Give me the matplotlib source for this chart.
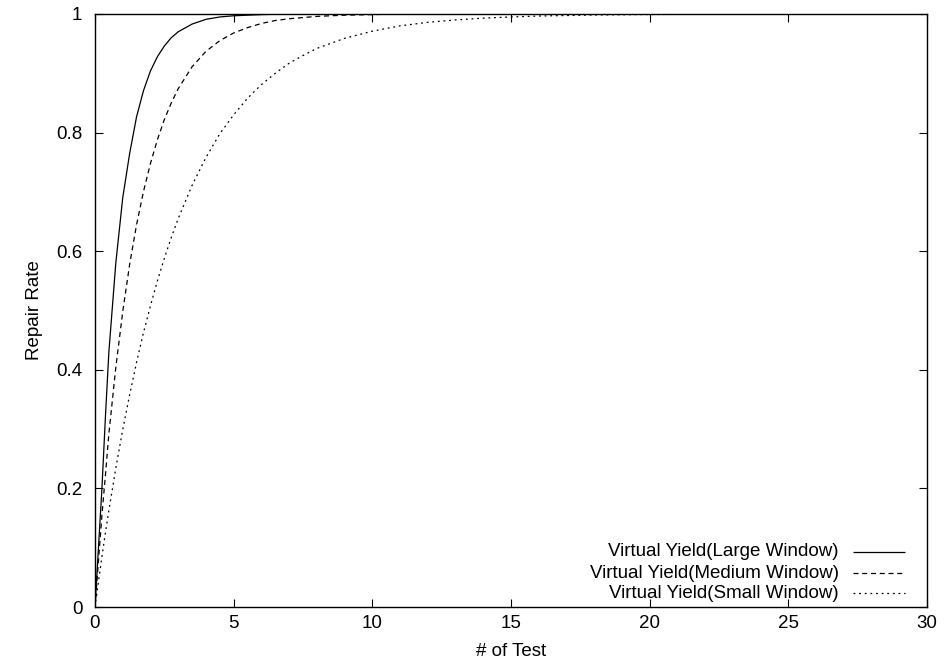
import matplotlib
matplotlib.use("Agg")
import matplotlib.pyplot as plt

plt.rcParams['font.family'] = ['Liberation Sans', 'DejaVu Sans']

# Data
tests = [0, 0.125, 0.25, 0.375, 0.5, 0.75, 1, 1.25, 1.5, 1.75, 2, 2.25, 2.5, 2.75,
         3, 3.5, 4, 4.5, 5, 5.5, 6, 6.5, 7, 7.5, 8, 9, 10, 11, 12, 13, 14, 15, 16,
         18, 20, 25, 30]
large_window = [0, 0.10, 0.20, 0.32, 0.43, 0.58, 0.69, 0.765, 0.827, 0.871, 0.904,
                0.928, 0.946, 0.960, 0.970, 0.983, 0.991, 0.995, 0.997, 0.998,
                0.999, 0.9995, 1.0, 1.0, 1.0, 1.0, 1.0, 1.0, 1.0, 1.0, 1.0, 1.0,
                1.0, 1.0, 1.0, 1.0, 1.0]
medium_window = [0, 0.078, 0.155, 0.222, 0.292, 0.404, 0.498, 0.578, 0.645, 0.701,
                 0.748, 0.788, 0.822, 0.850, 0.874, 0.911, 0.937, 0.955, 0.968,
                 0.977, 0.984, 0.989, 0.992, 0.994, 0.996, 0.998, 0.999, 1.0, 1.0,
                 1.0, 1.0, 1.0, 1.0, 1.0, 1.0, 1.0, 1.0]
small_window = [0, 0.043, 0.085, 0.125, 0.163, 0.234, 0.299, 0.358, 0.413, 0.463,
                0.508, 0.550, 0.588, 0.623, 0.655, 0.711, 0.758, 0.798, 0.830,
                0.858, 0.881, 0.900, 0.917, 0.930, 0.942, 0.959, 0.971, 0.980,
                0.986, 0.990, 0.993, 0.995, 0.9966, 0.9983, 0.9992, 1.0, 1.0]
series_labels = ["Virtual Yield(Large Window)",
                 "Virtual Yield(Medium Window)",
                 "Virtual Yield(Small Window)"]
x_ticks = [0, 5, 10, 15, 20, 25, 30]
y_ticks = [0, 0.2, 0.4, 0.6, 0.8, 1]
y_tick_labels = ["0", "0.2", "0.4", "0.6", "0.8", "1"]

W, H = 945, 668
FS = 13.5
fig = plt.figure(figsize=(W / 100, H / 100), dpi=100)
L, R, T, B = 95, 927, 14, 607
ax = fig.add_axes([L / W, 1 - B / H, (R - L) / W, (B - T) / H])

styles = [(0, ()), (0, (4, 3)), (0, (1.5, 3))]
series = [large_window, medium_window, small_window]
lw = 0.9
for ys, ls in zip(series, styles):
    ax.plot(tests, ys, color='black', linewidth=lw, linestyle=ls)

ax.set_xlim(0, 30)
ax.set_ylim(0, 1)
ax.set_xticks(x_ticks)
ax.set_xticklabels([str(t) for t in x_ticks])
ax.set_yticks(y_ticks)
ax.set_yticklabels(y_tick_labels)
ax.tick_params(direction='in', length=6, width=0.8, top=True, right=True,
               labelsize=FS, colors='black')
ax.tick_params(axis='x', pad=6)
ax.tick_params(axis='y', pad=9)
for sp in ax.spines.values():
    sp.set_linewidth(1.0)

# Legend (gnuplot style: right-aligned text, sample to the right)
row_y = [552, 573, 593]
text_right = 839
line_x0, line_x1 = 853, 905
for lab, ls, py in zip(series_labels, styles, row_y):
    ya = (B - py) / (B - T)
    ax.text((text_right - L) / (R - L), ya, lab, ha='right', va='center',
            fontsize=FS, transform=ax.transAxes)
    ax.plot([(line_x0 - L) / (R - L), (line_x1 - L) / (R - L)], [ya, ya],
            color='black', linewidth=lw, linestyle=ls, transform=ax.transAxes,
            clip_on=False)

fig.text(35 / W, 1 - 310 / H, "Repair Rate", rotation=90, ha='center',
         va='center', fontsize=FS)
fig.text(511 / W, 1 - 651 / H, "# of Test", ha='center', va='center',
         fontsize=FS)

fig.savefig("out.png", dpi=100)
